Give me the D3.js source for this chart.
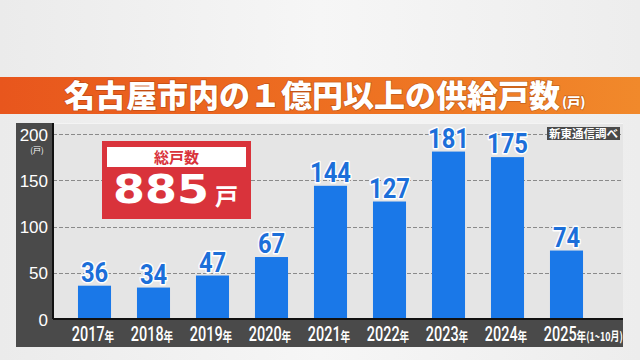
<!DOCTYPE html>
<html><head><meta charset="utf-8">
<script src="https://cdn.jsdelivr.net/npm/d3@7"></script>
<style>
html,body{margin:0;padding:0;overflow:hidden;}
svg{display:block;}
</style></head>
<body>
<svg id="chart" width="640" height="360"></svg>
<script>
const years = ["2017","2018","2019","2020","2021","2022","2023","2024","2025"];
const suffixes = ["","","","","","","","","(1~10月)"];
const values = [36,34,47,67,144,127,181,175,74];
const yTicks = [0,50,100,150,200];
const titleText = "名古屋市内の１億円以上の供給戸数";
const titleUnit = "(戸)";
const totalLabel = "総戸数";
const totalValue = "885";
const totalUnit = "戸";
const sourceText = "新東通信調べ";

(function(){
const svg = d3.select("#chart");
const defs = svg.append("defs");
const bg = defs.append("linearGradient").attr("id","bg").attr("x1","0").attr("x2","1").attr("y1","0").attr("y2","0");
bg.append("stop").attr("offset","0").attr("stop-color","#ebebeb");
bg.append("stop").attr("offset","0.5").attr("stop-color","#f6f6f6");
bg.append("stop").attr("offset","1").attr("stop-color","#ededed");
const og = defs.append("linearGradient").attr("id","og").attr("x1","0").attr("x2","1").attr("y1","0").attr("y2","0");
og.append("stop").attr("offset","0").attr("stop-color","#e8561d");
og.append("stop").attr("offset","0.6").attr("stop-color","#ee7322");
og.append("stop").attr("offset","1").attr("stop-color","#f1892b");

svg.append("rect").attr("width",640).attr("height",360).attr("fill","url(#bg)");

// title band
svg.append("rect").attr("x",0).attr("y",77).attr("width",640).attr("height",37).attr("fill","url(#og)");
const title = svg.append("text").attr("x",64).attr("y",107)
  .attr("font-family","'Noto Sans CJK JP'").attr("font-weight",900)
  .attr("fill","#fff").style("paint-order","stroke").attr("stroke","rgba(120,40,0,0.35)").attr("stroke-width",1.5);
title.append("tspan").attr("font-size",31).text(titleText);
title.append("tspan").attr("font-size",13).attr("dx",2).text(titleUnit);

// panel
const pLeft = 53, pRight = 623, pTop = 123, pBottom = 319;
svg.append("rect").attr("x",16).attr("y",pTop).attr("width",pLeft-16).attr("height",347-pTop).attr("fill","#4a4a4a");
svg.append("rect").attr("x",16).attr("y",pBottom).attr("width",pRight-16).attr("height",28).attr("fill","#4a4a4a");
svg.append("rect").attr("x",pLeft).attr("y",pTop).attr("width",pRight-pLeft).attr("height",pBottom-pTop).attr("fill","#e5e5e5");
svg.append("line").attr("x1",pLeft).attr("x2",pRight).attr("y1",pTop+0.5).attr("y2",pTop+0.5).attr("stroke","#f4f4f4");

const y = d3.scaleLinear().domain([0,200]).range([pBottom,134]);
const x = d3.scaleBand().domain(years).range([65,596]).paddingInner(0.44).paddingOuter(0.22);

// grid
svg.append("g").selectAll("line").data(yTicks.filter(d=>d>0)).join("line")
  .attr("x1",pLeft).attr("x2",pRight).attr("y1",d=>Math.round(y(d))+0.5).attr("y2",d=>Math.round(y(d))+0.5)
  .attr("stroke","#8a8a8a").attr("stroke-width",1).attr("stroke-dasharray","4,2");

// y axis labels via d3 axis
const yAxis = svg.append("g").attr("transform",`translate(48,0)`)
  .call(d3.axisLeft(y).tickValues(yTicks).tickSize(0).tickPadding(0));
yAxis.select(".domain").remove();
yAxis.selectAll("text").attr("fill","#fff").attr("font-size",17)
  .attr("font-family","'Liberation Sans', Arial, sans-serif").attr("dy","0.36em");
svg.append("text").attr("x",37).attr("y",153).attr("text-anchor","middle")
  .attr("fill","#fff").attr("font-size",8).attr("font-family","'Noto Sans CJK JP'").text(titleUnit);

// source label
svg.append("rect").attr("x",547).attr("y",127).attr("width",73).attr("height",13).attr("fill","#4a4a4a");
svg.append("text").attr("x",583.5).attr("y",137.5).attr("text-anchor","middle").attr("fill","#fff")
  .attr("font-size",11.5).attr("font-weight",700).attr("font-family","'Noto Sans CJK JP'").text(sourceText);

// bars
svg.append("g").selectAll("rect").data(values).join("rect")
  .attr("x",(d,i)=>x(years[i])).attr("width",x.bandwidth())
  .attr("y",d=>y(d)).attr("height",d=>pBottom-y(d)).attr("fill","#1a78e8");

// axis lines
svg.append("line").attr("x1",pLeft).attr("x2",pRight).attr("y1",pBottom).attr("y2",pBottom).attr("stroke","#111").attr("stroke-width",2);
svg.append("line").attr("x1",pLeft).attr("x2",pLeft).attr("y1",pTop).attr("y2",pBottom).attr("stroke","#111").attr("stroke-width",2);

// value labels
const vl = svg.append("g").selectAll("g").data(values).join("g")
  .attr("transform",(d,i)=>`translate(${x(years[i])+x.bandwidth()/2},${y(d)-4}) scale(0.88,1)`);
vl.append("text").attr("text-anchor","middle")
  .attr("font-family","Roboto, 'Liberation Sans', sans-serif").attr("font-weight",700).attr("font-size",27)
  .attr("fill","#1c6fd9").attr("stroke","#fff").attr("stroke-width",3).attr("stroke-linejoin","round")
  .style("paint-order","stroke").text(d=>d);

// x labels
years.forEach((yr,i)=>{
  const g = svg.append("g").attr("transform",`translate(${x(yr)+x.bandwidth()/2},341) scale(0.74,1)`);
  const t = g.append("text").attr("fill","#fff").attr("font-family","Roboto, 'Liberation Sans', sans-serif").attr("font-weight",500);
  const a = t.append("tspan").attr("font-size",19.5).text(yr);
  const b = t.append("tspan").attr("font-size",13).attr("font-family","'Noto Sans CJK JP'").attr("font-weight",700).text("年");
  if (suffixes[i]) t.append("tspan").attr("font-size",12).attr("font-family","'Noto Sans CJK JP'").attr("font-weight",700).text(suffixes[i]);
  const w = a.node().getComputedTextLength() + b.node().getComputedTextLength();
  t.attr("x",-w/2 - 2);
});

// total box
svg.append("rect").attr("x",102).attr("y",141).attr("width",149).attr("height",78).attr("fill","#d9333b");
svg.append("rect").attr("x",107).attr("y",147).attr("width",139).attr("height",20).attr("fill","#fff");
svg.append("text").attr("x",176.5).attr("y",163).attr("text-anchor","middle").attr("fill","#d9333b")
  .attr("font-size",15).attr("font-weight",700).attr("font-family","'Noto Sans CJK JP'").text(totalLabel);
const tg = svg.append("g").attr("transform","translate(113,203) scale(1.18,1)");
tg.append("text").attr("x",0).attr("y",0).attr("fill","#fff")
  .attr("font-size",39).attr("font-weight",700).attr("font-family","'DejaVu Sans', sans-serif").text(totalValue);
svg.append("text").attr("x",215).attr("y",203).attr("fill","#fff")
  .attr("font-size",23).attr("font-weight",700).attr("font-family","'Noto Sans CJK JP'").attr("dy","0.1em").text(totalUnit);
})();
</script>
</body></html>
